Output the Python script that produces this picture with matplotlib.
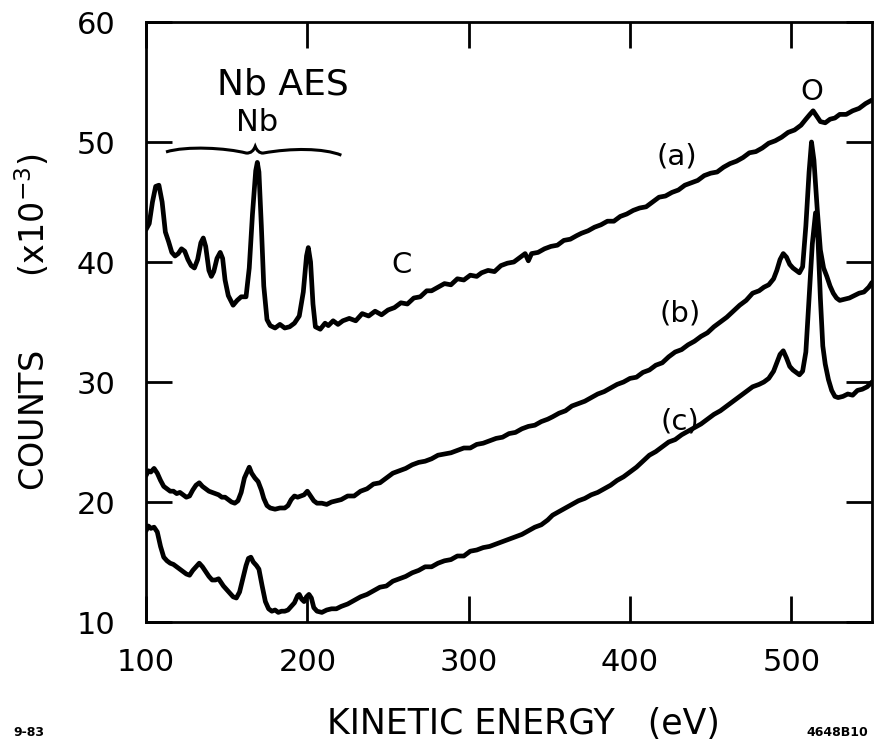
import matplotlib
matplotlib.use("Agg")
import matplotlib.pyplot as plt
from matplotlib.path import Path
from matplotlib.patches import PathPatch

# ---- spectrum (a) ----
energy_a = [100, 102, 104, 106, 108, 110, 112, 114, 116, 118, 120, 122, 124, 126, 128, 130,
            132, 134, 135.5, 137, 139, 140.5, 142, 144, 146, 147.5, 149, 151, 154, 156.5, 159,
            162, 164, 166, 168, 169, 170, 171.5, 173, 175, 177, 180, 183, 186, 189, 192, 195,
            197.5, 199.5, 200.6, 202, 203.5, 205, 208, 211, 213, 216, 219, 222, 226, 230, 234,
            238, 242, 246, 250, 254, 258, 262, 266, 270, 274, 277, 281, 285, 289, 293, 297,
            301, 305, 308, 312, 316, 320, 324, 328, 332, 335, 337, 339, 343, 347, 351, 355,
            359, 363, 367, 370, 374, 378, 382, 386, 390, 394, 398, 402, 406, 410, 414, 418,
            422, 426, 430, 434, 438, 442, 446, 450, 454, 458, 462, 466, 470, 474, 478, 482,
            486, 490, 494, 498, 502, 506, 509, 511.5, 513.5, 515.5, 518, 521, 524, 527, 530,
            534, 538, 542, 546, 550]
counts_a = [42.7, 43.2, 45.0, 46.3, 46.4, 45.0, 42.5, 41.7, 40.8, 40.5, 40.7, 41.1, 40.9, 40.2,
            39.7, 39.5, 40.2, 41.6, 42.0, 41.3, 39.3, 38.8, 39.2, 40.3, 40.8, 40.3, 38.5, 37.2,
            36.4, 36.8, 37.1, 37.1, 39.5, 44.0, 47.6, 48.3, 47.5, 43.0, 38.0, 35.2, 34.7, 34.5,
            34.8, 34.5, 34.6, 34.9, 35.5, 37.5, 40.5, 41.2, 40.0, 36.5, 34.6, 34.4, 34.9, 34.7,
            35.1, 34.8, 35.1, 35.3, 35.1, 35.7, 35.5, 35.9, 35.6, 36.0, 36.2, 36.6, 36.5, 37.0,
            37.1, 37.6, 37.6, 37.9, 38.2, 38.1, 38.6, 38.5, 38.9, 38.8, 39.1, 39.3, 39.2, 39.7,
            39.9, 40.0, 40.4, 40.7, 40.1, 40.7, 40.8, 41.1, 41.3, 41.4, 41.8, 41.9, 42.2, 42.4,
            42.6, 42.9, 43.1, 43.4, 43.4, 43.8, 44.0, 44.3, 44.5, 44.6, 45.0, 45.4, 45.5, 45.8,
            46.0, 46.4, 46.6, 46.8, 47.2, 47.4, 47.5, 47.9, 48.2, 48.4, 48.7, 49.1, 49.2, 49.5,
            49.9, 50.1, 50.4, 50.8, 51.0, 51.4, 51.9, 52.3, 52.6, 52.2, 51.7, 51.6, 51.9, 52.0,
            52.3, 52.3, 52.6, 52.8, 53.2, 53.5]

# ---- spectrum (b) ----
energy_b = [100, 101.5, 103, 105, 107, 109, 111, 113, 115, 117, 119, 121, 123, 125, 127, 129,
            131, 133, 135, 137, 139, 141, 143, 145, 147, 149, 151, 153, 155, 157, 159, 161, 163,
            164, 165.5, 167.5, 169.5, 171.5, 173, 175, 177, 180, 183, 186, 188, 190, 192, 194,
            196, 198, 200, 202, 204, 206, 209, 212, 215, 218, 221, 225, 229, 233, 237, 241,
            245, 249, 253, 257, 261, 265, 269, 273, 277, 281, 285, 289, 293, 297, 301, 305,
            309, 313, 317, 321, 325, 329, 333, 337, 341, 345, 349, 352, 356, 360, 364, 368,
            372, 376, 380, 384, 388, 392, 396, 400, 404, 408, 412, 416, 420, 424, 428, 432,
            436, 440, 444, 448, 452, 456, 460, 464, 468, 472, 476, 480, 483, 486, 489, 491,
            493, 495, 497, 499, 501, 503, 505, 507, 509, 511, 512.5, 514, 516, 518, 520, 522,
            524, 526, 528, 530, 533, 536, 539, 542, 545, 548, 550]
counts_b = [22.2, 22.6, 22.5, 22.8, 22.4, 21.8, 21.3, 21.1, 20.9, 20.9, 20.7, 20.8, 20.6, 20.4,
            20.5, 21.0, 21.4, 21.6, 21.3, 21.1, 20.9, 20.8, 20.7, 20.6, 20.4, 20.4, 20.2, 20.0,
            19.9, 20.1, 20.8, 22.0, 22.6, 22.9, 22.4, 22.0, 21.7, 21.0, 20.3, 19.7, 19.5, 19.4,
            19.5, 19.5, 19.7, 20.2, 20.5, 20.4, 20.5, 20.6, 20.9, 20.5, 20.1, 19.9, 19.9, 19.8,
            20.0, 20.1, 20.2, 20.5, 20.5, 20.9, 21.1, 21.5, 21.6, 22.0, 22.4, 22.6, 22.8, 23.1,
            23.3, 23.4, 23.6, 23.9, 24.0, 24.1, 24.3, 24.5, 24.5, 24.8, 24.9, 25.1, 25.3, 25.4,
            25.7, 25.8, 26.1, 26.3, 26.4, 26.7, 26.9, 27.1, 27.4, 27.6, 28.0, 28.2, 28.4, 28.7,
            29.0, 29.2, 29.5, 29.8, 30.0, 30.3, 30.4, 30.8, 31.0, 31.4, 31.6, 32.1, 32.5, 32.7,
            33.1, 33.4, 33.8, 34.1, 34.6, 35.0, 35.4, 35.9, 36.4, 36.8, 37.4, 37.6, 37.9, 38.1,
            38.6, 39.3, 40.2, 40.7, 40.4, 39.8, 39.5, 39.3, 39.1, 39.6, 43.0, 47.5, 50.0, 48.5,
            44.5, 41.0, 39.5, 38.8, 38.0, 37.4, 37.0, 36.8, 36.9, 37.0, 37.2, 37.4, 37.5, 37.9,
            38.3]

# ---- spectrum (c) ----
energy_c = [100, 101.5, 103, 105, 107, 109, 111, 113, 115, 117, 119, 121, 123, 125, 127, 129,
            131, 133, 135, 137, 139, 141, 143, 145, 146.5, 148, 150, 152, 154, 156, 158, 160,
            162, 163.5, 165, 166.5, 168.5, 170, 172, 174, 176, 178, 180, 182, 184, 186, 188,
            190, 192, 194, 195, 196.5, 198, 199.5, 201, 202.5, 204, 206, 209, 212, 215, 218,
            221, 225, 229, 233, 237, 241, 245, 249, 253, 257, 261, 265, 269, 273, 277, 281,
            285, 289, 293, 297, 301, 305, 309, 313, 317, 321, 325, 329, 333, 337, 341, 345,
            349, 352, 356, 360, 364, 368, 372, 376, 380, 384, 388, 392, 396, 400, 404, 408,
            412, 416, 420, 424, 428, 432, 436, 440, 444, 448, 452, 456, 460, 464, 468, 472,
            476, 480, 483, 486, 489, 491, 493, 495, 497, 499, 501, 503, 505, 507, 509, 511,
            513, 515, 516.5, 518, 519.5, 521, 523, 525, 527, 529, 532, 535, 538, 541, 544,
            547, 550]
counts_c = [17.6, 18.0, 17.8, 17.9, 17.5, 16.3, 15.4, 15.1, 14.9, 14.8, 14.6, 14.4, 14.2, 14.0,
            13.9, 14.3, 14.6, 14.9, 14.6, 14.2, 13.8, 13.5, 13.5, 13.6, 13.3, 13.0, 12.7, 12.4,
            12.1, 12.0, 12.5, 13.6, 14.7, 15.3, 15.4, 15.0, 14.7, 14.4, 13.0, 11.7, 11.1, 10.9,
            11.0, 10.8, 10.9, 10.9, 11.0, 11.3, 11.6, 12.2, 12.3, 11.9, 11.7, 12.1, 12.3, 12.0,
            11.2, 10.9, 10.8, 11.0, 11.1, 11.1, 11.3, 11.5, 11.8, 12.1, 12.3, 12.6, 12.9, 13.0,
            13.4, 13.6, 13.8, 14.1, 14.3, 14.6, 14.6, 14.9, 15.1, 15.2, 15.5, 15.5, 15.9, 16.0,
            16.2, 16.3, 16.5, 16.7, 16.9, 17.1, 17.3, 17.6, 17.9, 18.1, 18.5, 18.9, 19.2, 19.5,
            19.8, 20.1, 20.3, 20.6, 20.8, 21.1, 21.4, 21.8, 22.1, 22.5, 22.9, 23.4, 23.9, 24.2,
            24.6, 25.0, 25.2, 25.6, 25.9, 26.2, 26.5, 26.9, 27.3, 27.6, 28.0, 28.4, 28.8, 29.2,
            29.6, 29.8, 30.0, 30.3, 30.9, 31.6, 32.3, 32.6, 32.0, 31.3, 31.0, 30.8, 30.6, 30.9,
            32.5, 37.0, 41.5, 44.1, 42.0, 37.0, 33.0, 31.5, 30.2, 29.3, 28.8, 28.7, 28.8, 29.0,
            28.9, 29.3, 29.4, 29.6, 30.0]

x_ticks = [100, 200, 300, 400, 500]
y_ticks = [10, 20, 30, 40, 50, 60]

plt.rcParams['font.family'] = ['DejaVu Sans']

fig = plt.figure(figsize=(8.79, 7.45), dpi=100)
ax = fig.add_axes([146 / 879, 1 - 622 / 745, (872 - 146) / 879, 600 / 745])

for e, c in ((energy_a, counts_a), (energy_b, counts_b), (energy_c, counts_c)):
    ax.plot(e, c, color='black', lw=3.4, solid_joinstyle='round', solid_capstyle='round')

ax.set_xlim(100, 550)
ax.set_ylim(10, 60)
ax.set_xticks(x_ticks)
ax.set_yticks(y_ticks)
ax.tick_params(direction='in', length=19, width=2, top=True, right=True,
               labelsize=22, pad=19)
ax.tick_params(axis='y', pad=22)
for s in ax.spines.values():
    s.set_linewidth(2)

ax.set_xlabel('KINETIC ENERGY   (eV)', fontsize=25, va='center')
ax.xaxis.set_label_coords(0.52, -0.17)
ax.set_ylabel('COUNTS       (x10$^{-3}$)', fontsize=24, va='center')
ax.yaxis.set_label_coords(-0.156, 0.5)

# curve and peak labels
ax.text(429, 48.8, '(a)', fontsize=21, ha='center', va='center')
ax.text(431, 35.7, '(b)', fontsize=21, ha='center', va='center')
ax.text(431, 26.7, '(c)', fontsize=21, ha='center', va='center')
ax.text(512.5, 54.2, 'O', fontsize=21, ha='center', va='center')
ax.text(258.7, 39.75, 'C', fontsize=21, ha='center', va='center')
ax.text(184.6, 54.8, 'Nb AES', fontsize=26, ha='center', va='center')
ax.text(168.8, 51.6, 'Nb', fontsize=22, ha='center', va='center')

# brace spanning the Nb Auger region
brace_verts = [(112.4, 49.17), (125, 49.7), (150, 49.5), (162.1, 49.08),
               (165, 49.05), (166.8, 49.3), (167.7, 49.63),
               (168.6, 49.3), (170.4, 49.05), (172.7, 49.08),
               (190, 49.5), (210, 49.5), (221.1, 48.9)]
brace_codes = [Path.MOVETO, Path.CURVE4, Path.CURVE4, Path.CURVE4,
               Path.CURVE4, Path.CURVE4, Path.CURVE4,
               Path.CURVE4, Path.CURVE4, Path.CURVE4,
               Path.CURVE4, Path.CURVE4, Path.CURVE4]
ax.add_patch(PathPatch(Path(brace_verts, brace_codes), fill=False, lw=2.2,
                       edgecolor='black', clip_on=False))

fig.text(13 / 879, 1 - 732 / 745, '9-83', fontsize=9, fontweight='bold', va='center')
fig.text(868 / 879, 1 - 732 / 745, '4648B10', fontsize=9, fontweight='bold',
         va='center', ha='right')

fig.savefig('out.png', dpi=100)
